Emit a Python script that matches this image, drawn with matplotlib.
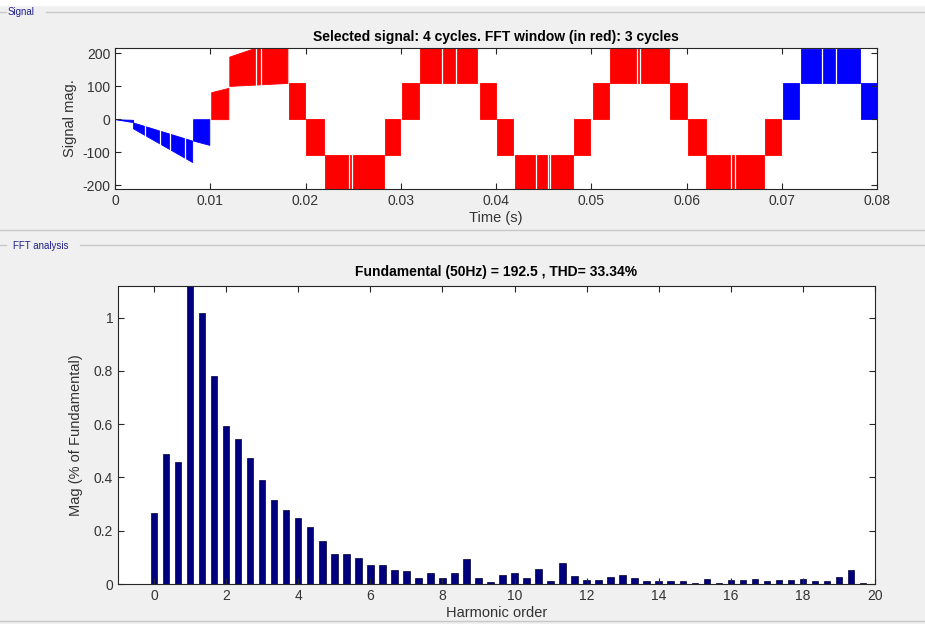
import matplotlib
matplotlib.use('Agg')
import matplotlib.pyplot as plt
import numpy as np
from matplotlib.lines import Line2D

plt.rcParams['font.family'] = ['Liberation Sans', 'DejaVu Sans']
plt.rcParams['axes.unicode_minus'] = False

# ---------------- signal: PWM blocks ----------------
# each block switches between a lower and an upper envelope
blk_t0 = [0.0, 0.0019, 0.0082, 0.0101, 0.0120, 0.0183, 0.0201, 0.0220, 0.0283,
          0.0301, 0.0320, 0.0383, 0.0401, 0.0420, 0.0482, 0.0502, 0.0520, 0.0583,
          0.0602, 0.0620, 0.0682, 0.0701, 0.0720, 0.0783]
blk_t1 = [0.0019, 0.0081, 0.0099, 0.0119, 0.0181, 0.0199, 0.0219, 0.0282, 0.0299,
          0.0319, 0.0380, 0.0400, 0.0418, 0.0481, 0.0499, 0.0519, 0.0582, 0.0600,
          0.0620, 0.0681, 0.0699, 0.0718, 0.0782, 0.0800]
blk_lo0 = [0, -28, -65, 0, 101, 0, -108, -250, -108, 0, 110, 0, -108, -250, -108,
           0, 110, 0, -108, -250, -108, 0, 110, 0]
blk_lo1 = [-9, -130, -78, 0, 110, 0, -108, -250, -108, 0, 110, 0, -108, -250, -108,
           0, 110, 0, -108, -250, -108, 0, 110, 0]
blk_hi0 = [0, -10, 0, 82, 190, 110, 0, -108, 0, 110, 250, 110, 0, -108, 0,
           110, 250, 110, 0, -108, 0, 110, 214, 110]
blk_hi1 = [-2, -65, 0, 95, 250, 110, 0, -108, 0, 110, 250, 110, 0, -108, 0,
           110, 250, 110, 0, -108, 0, 110, 214, 110]
blk_col = ['b', 'b', 'b'] + ['r'] * 18 + ['b', 'b', 'b']

# thin white gaps (wider pulses) visible inside the blocks
gap_t = [0.0031, 0.0047, 0.0058, 0.0073, 0.0148, 0.0153, 0.0246, 0.0249,
         0.0343, 0.0358, 0.0442, 0.0455, 0.0457, 0.0548, 0.0551, 0.0647,
         0.0651, 0.0742, 0.0757]

# ---------------- FFT: harmonic spectrum, 1/3 harmonic resolution ----------------
harm_order = np.arange(60) / 3.0
mag_pct = [0.268, 0.489, 0.457, 100.0, 1.018, 0.782, 0.594, 0.543, 0.474, 0.392,
           0.315, 0.277, 0.247, 0.214, 0.163, 0.113, 0.113, 0.099, 0.070, 0.070,
           0.053, 0.049, 0.023, 0.040, 0.024, 0.040, 0.095, 0.023, 0.007, 0.032,
           0.040, 0.022, 0.058, 0.012, 0.077, 0.029, 0.015, 0.015, 0.025, 0.032,
           0.021, 0.011, 0.011, 0.011, 0.011, 0.005, 0.018, 0.004, 0.015, 0.014,
           0.018, 0.012, 0.014, 0.014, 0.018, 0.011, 0.011, 0.025, 0.054, 0.004]

txt_col = '#333333'
panel_col = '#1f1f8f'

fig = plt.figure(figsize=(9.25, 6.24), dpi=100)
fig.patch.set_facecolor('#f0f0f0')

# panel frames (GUI look)
W, H = 925.0, 624.0
def hline(y, x0, x1, c='#c8c8c8'):
    fig.add_artist(Line2D([x0 / W, x1 / W], [1 - y / H, 1 - y / H], color=c, lw=1.0))
fig.add_artist(plt.Rectangle((0, 1 - 5 / H), 1, 5 / H, color='white', transform=fig.transFigure))
hline(12, 0, 6)
hline(12, 46, 925)
hline(230, 0, 925)
hline(245, 0, 6)
hline(245, 80, 925)
hline(621, 0, 925)
fig.text(8 / W, 1 - 12 / H, 'Signal', fontsize=7, color=panel_col, va='center')
fig.text(13 / W, 1 - 246 / H, 'FFT analysis', fontsize=7, color=panel_col, va='center')

def style(ax):
    ax.tick_params(direction='in', top=True, right=True, length=4, width=0.8,
                   labelsize=10, colors='#262626', labelcolor=txt_col)
    for s in ax.spines.values():
        s.set_color('#262626')
        s.set_linewidth(0.8)

# ---------------- top: signal ----------------
ax1 = fig.add_axes([115 / W, 1 - 189 / H, 762 / W, 141.3 / H])
for i in range(len(blk_t0)):
    c = '#0000ff' if blk_col[i] == 'b' else '#ff0000'
    ax1.fill_between([blk_t0[i], blk_t1[i]], [blk_lo0[i], blk_lo1[i]],
                     [blk_hi0[i], blk_hi1[i]], color=c, lw=0.6, edgecolor=c)
ax1.vlines(gap_t, -260, 260, color='white', lw=0.9)
ax1.set_xlim(0, 0.08)
ax1.set_ylim(-212, 217)
ax1.set_xticks(np.arange(0, 0.081, 0.01))
ax1.set_xticklabels(['0', '0.01', '0.02', '0.03', '0.04', '0.05', '0.06', '0.07', '0.08'])
ax1.set_yticks([-200, -100, 0, 100, 200])
ax1.set_title('Selected signal: 4 cycles. FFT window (in red): 3 cycles',
              fontsize=10, fontweight='bold', color='black', pad=5)
ax1.set_xlabel('Time (s)', fontsize=10.5, color=txt_col, labelpad=2)
ax1.set_ylabel('Signal mag.', fontsize=10.5, color=txt_col, labelpad=4)
style(ax1)

# ---------------- bottom: FFT bars ----------------
ax2 = fig.add_axes([118 / W, 1 - 584 / H, 757 / W, 298.5 / H])
ax2.bar(harm_order, mag_pct, width=0.18, color='#00007f', edgecolor='#000033', lw=0.5)
ax2.set_xlim(-1, 20)
ax2.set_ylim(0, 1.121)
ax2.set_xticks(np.arange(0, 21, 2))
ax2.set_yticks([0, 0.2, 0.4, 0.6, 0.8, 1])
ax2.set_yticklabels(['0', '0.2', '0.4', '0.6', '0.8', '1'])
ax2.set_title('Fundamental (50Hz) = 192.5 , THD= 33.34%', fontsize=10,
              fontweight='bold', color='black', pad=7)
ax2.set_xlabel('Harmonic order', fontsize=10.5, color=txt_col, labelpad=2)
ax2.set_ylabel('Mag (% of Fundamental)', fontsize=10.5, color=txt_col, labelpad=8)
style(ax2)

fig.savefig('out.png', dpi=100, facecolor=fig.get_facecolor())
